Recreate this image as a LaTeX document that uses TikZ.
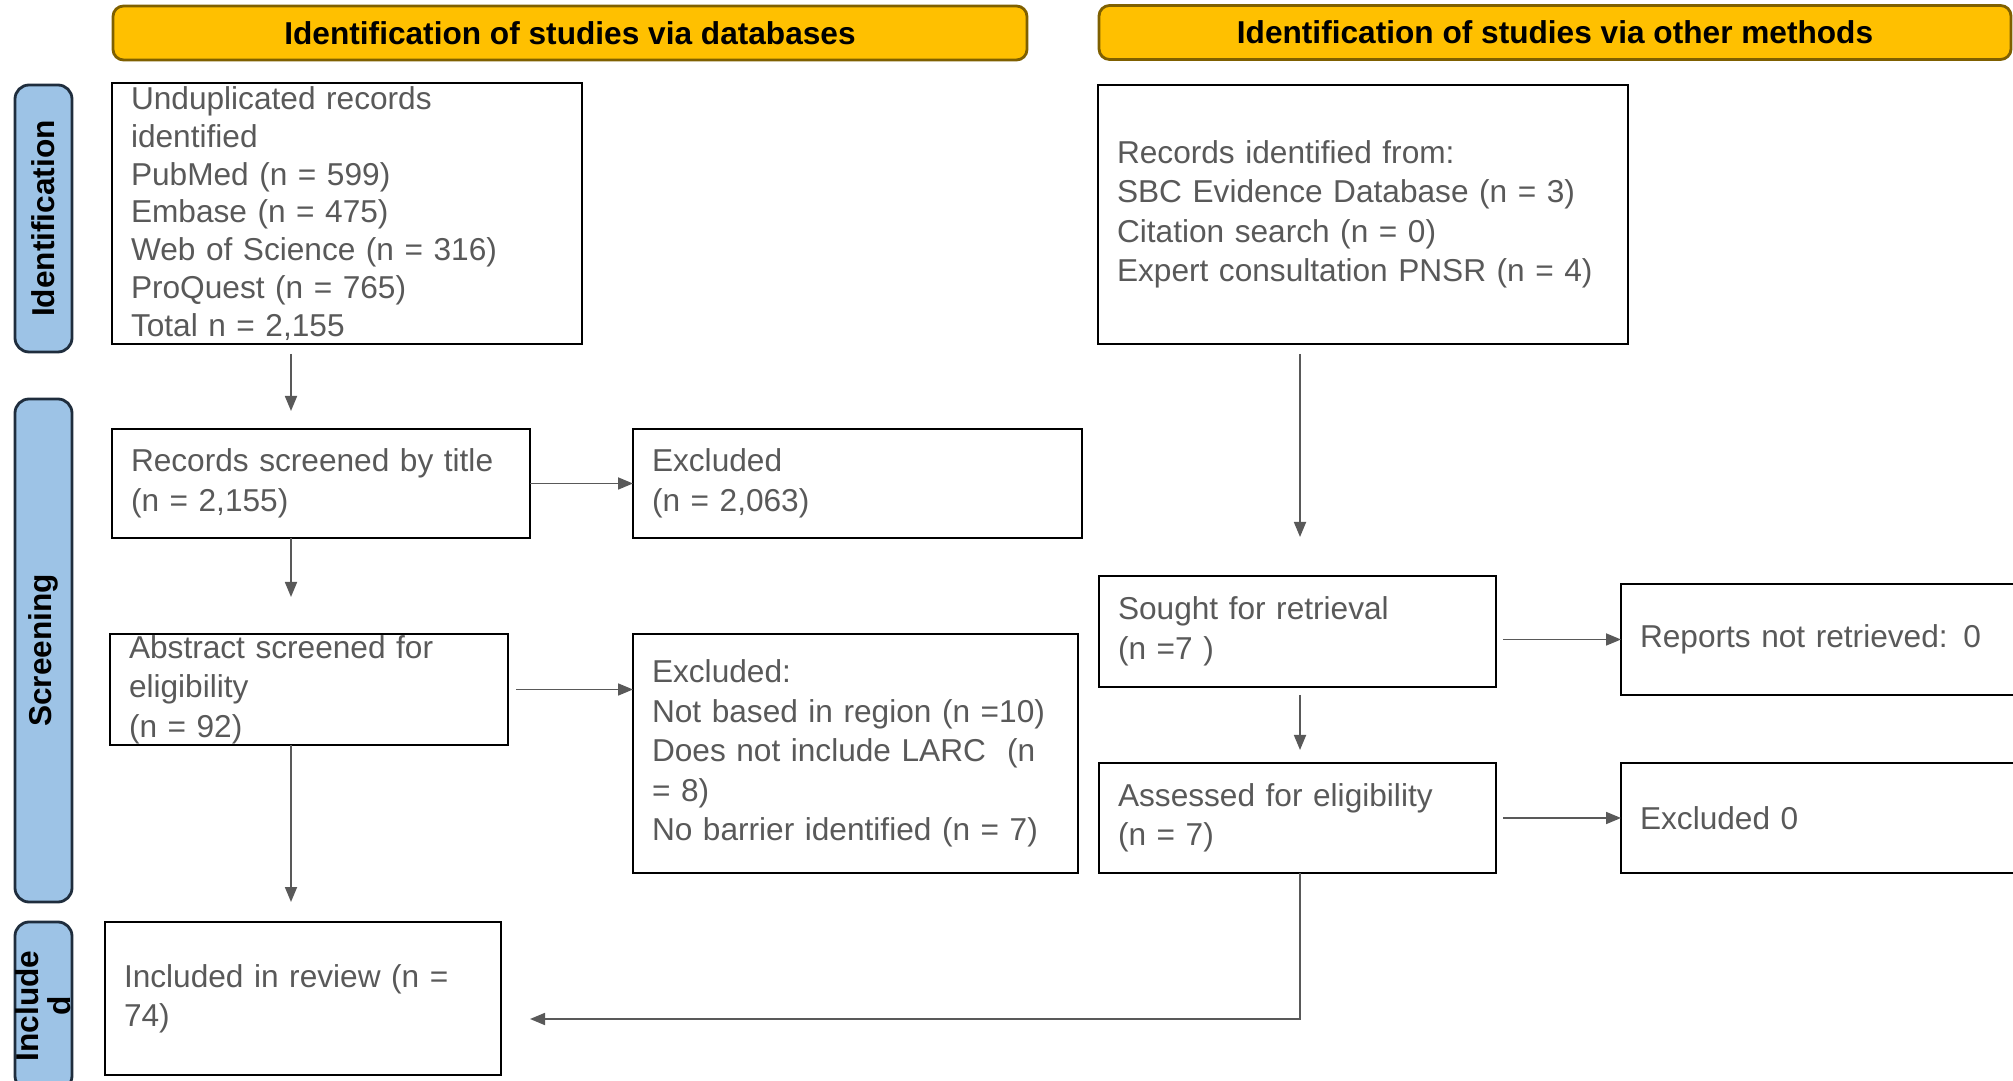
\documentclass[tikz,border=0pt]{standalone}
\usepackage{fontspec}
\setmainfont{Liberation Sans}
\usepackage{tikz}
\usetikzlibrary{arrows.meta, positioning, calc}
\definecolor{headcolor}{RGB}{255, 192, 0}
\definecolor{headborder}{RGB}{127, 96, 0}
\definecolor{tabcolor}{RGB}{157, 195, 230}
\definecolor{tabborder}{RGB}{31, 45, 61}
\definecolor{textgray}{RGB}{89, 89, 89}

\begin{document}
\begin{tikzpicture}[
    header/.style={draw=headborder, line width=0.8pt, fill=headcolor, rounded corners=3pt, minimum height=0.54cm, font=\bfseries\fontsize{9}{11}\selectfont, inner sep=0pt, outer sep=0pt},
    phase/.style={draw=tabborder, line width=0.8pt, fill=tabcolor, rounded corners=4pt, minimum height=0.57cm, rotate=90, font=\bfseries\fontsize{9}{9}\selectfont, align=center, inner sep=0pt, outer sep=0pt},
    record/.style={draw=black, line width=0.8pt, font=\fontsize{9}{11.2}\selectfont, text=textgray, align=left, inner xsep=0.19cm, inner ysep=0pt, outer sep=0pt},
    arrow/.style={-{Triangle[length=1.5mm, width=1.2mm]}, draw=textgray, line width=0.5pt}
]
    \clip (0,0) rectangle (20.13,-10.81);

    % Headers
    \node[header, minimum width=9.14cm] (dbhead) at (5.70,-0.33) {Identification of studies via databases};
    \node[header, minimum width=9.12cm] (otherhead) at (15.55,-0.325) {Identification of studies via other methods};

    % Phase tabs
    \node[phase, minimum width=2.67cm] (identtab) at (0.435,-2.185) {Identification};
    \node[phase, minimum width=5.03cm] (screentab) at (0.435,-6.505) {Screening};
    \node[phase, minimum width=1.68cm] (incltab) at (0.435,-10.06) {Include\\d};

    % Databases column
    \node[record, font=\fontsize{9}{10.75}\selectfont, text width=4.32cm, minimum height=2.61cm] (records) at (3.47,-2.135) {Unduplicated records\\identified\\PubMed (n = 599)\\Embase (n = 475)\\Web of Science (n = 316)\\ProQuest (n = 765)\\Total n = 2,155};
    \node[record, text width=3.80cm, minimum height=1.09cm] (screened) at (3.21,-4.835) {Records screened by title\\(n = 2,155)};
    \node[record, text width=4.11cm, minimum height=1.09cm, right=1.03cm of screened] (excltitle) {Excluded\\(n = 2,063)};
    \node[record, text width=3.60cm, minimum height=1.11cm] (abstract) at (3.09,-6.895) {Abstract screened for\\eligibility\\(n = 92)};
    \node[record, text width=4.07cm, minimum height=2.39cm, right=1.25cm of abstract.north east, anchor=north west] (exclabstract) {Excluded:\\Not based in region (n =10)\\Does not include LARC~~(n\\= 8)\\No barrier identified (n = 7)};
    \node[record, text width=3.58cm, minimum height=1.53cm] (included) at (3.03,-9.985) {Included in review (n =\\74)};

    % Other methods column
    \node[record, text width=4.92cm, minimum height=2.59cm] (otherrec) at (13.63,-2.145) {Records identified from:\\SBC Evidence Database (n = 3)\\Citation search (n = 0)\\Expert consultation PNSR (n = 4)};
    \node[record, text width=3.59cm, minimum height=1.11cm] (sought) at (12.975,-6.315) {Sought for retrieval\\(n =7 )};
    \node[record, text width=3.71cm, minimum height=1.11cm] (notretrieved) at (18.255,-6.395) {Reports not retrieved: 0};
    \node[record, text width=3.59cm, minimum height=1.10cm] (assessed) at (12.975,-8.18) {Assessed for eligibility\\(n = 7)};
    \node[record, text width=3.71cm, minimum height=1.10cm, right=1.25cm of assessed] (exclother) {Excluded 0};

    % Arrow columns
    \coordinate (colA) at (2.91,0);
    \coordinate (colB) at (13.0,0);

    % Connectors
    \draw[arrow, shorten <=1mm, shorten >=1.8mm] (records.south -| colA) -- (screened.north -| colA);
    \draw[arrow] (screened) -- (excltitle);
    \draw[arrow, shorten >=3.7mm] (screened.south -| colA) -- (abstract.north -| colA);
    \draw[arrow, shorten <=0.8mm] (abstract.east) -- (abstract.east -| exclabstract.west);
    \draw[arrow, shorten >=2mm] (abstract.south -| colA) -- (included.north -| colA);
    \draw[arrow, shorten <=1mm, shorten >=3.9mm] (otherrec.south -| colB) -- (sought.north -| colB);
    \draw[arrow, shorten <=0.7mm] (sought.east |- notretrieved.west) -- (notretrieved.west);
    \draw[arrow, shorten <=0.8mm, shorten >=1.3mm] (sought.south -| colB) -- (assessed.north -| colB);
    \draw[arrow, shorten <=0.7mm] (assessed.east) -- (exclother.west);
    \draw[arrow, shorten >=2.9mm] (assessed.south -| colB) |- ([yshift=-2.05mm]included.east);

\end{tikzpicture}
\end{document}
